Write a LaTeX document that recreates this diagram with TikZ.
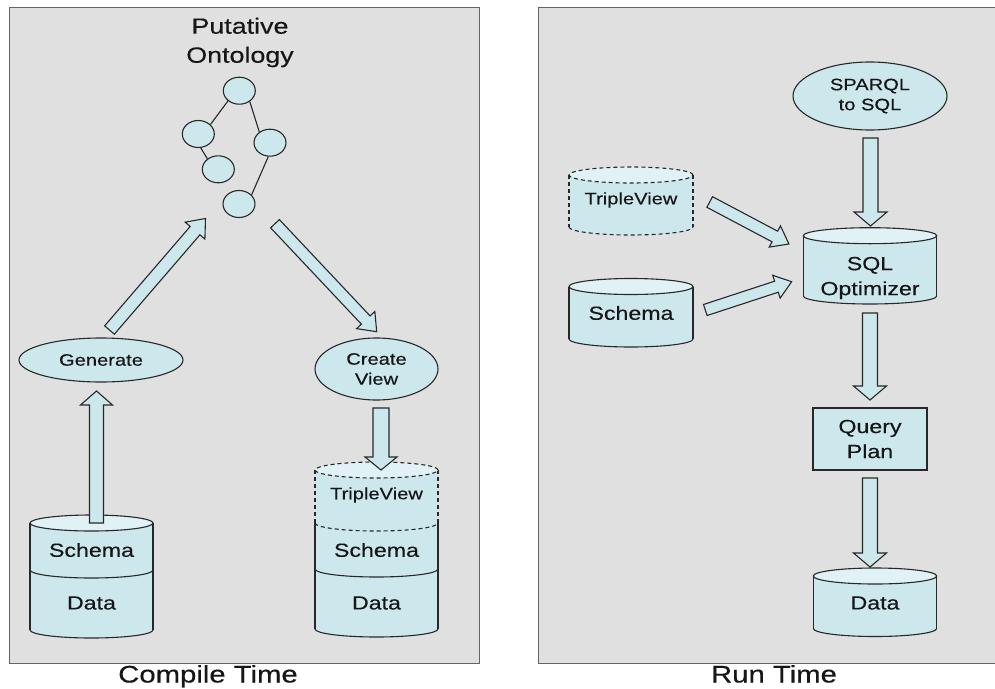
\documentclass[tikz,border=0pt]{standalone}
\usepackage{fontspec}
\setmainfont{Liberation Sans}[FakeStretch=1.22,FakeBold=0.35]
\usetikzlibrary{calc,shapes.geometric}

\definecolor{panelbg}{RGB}{224,224,224}
\definecolor{panelline}{RGB}{100,100,100}
\definecolor{cylfill}{RGB}{204,232,236}
\definecolor{cyltopfill}{RGB}{224,242,245}
\definecolor{inkc}{RGB}{40,40,40}
\definecolor{textc}{RGB}{22,22,22}

% database drawing helpers: centre x, x radius, y values, extra style
\newcommand\cylBody[4]{%
  \fill[cylfill] ({#1-#2},#3) -- ({#1-#2},#4)
    arc[start angle=180,end angle=360,x radius=#2pt,y radius=8pt]
    -- ({#1+#2},#3) -- cycle;}
\newcommand\cylSides[5]{%
  \draw[shapeline,#5] ({#1-#2},#3) -- ({#1-#2},#4) ({#1+#2},#3) -- ({#1+#2},#4);}
\newcommand\cylArc[4]{%
  \draw[shapeline,#4] ({#1-#2},#3)
    arc[start angle=180,end angle=360,x radius=#2pt,y radius=8pt];}
\newcommand\cylTop[4]{%
  \draw[shapeline,fill=cyltopfill,#4] (#1,#3) ellipse[x radius=#2pt,y radius=8pt];}

\begin{document}
\begin{tikzpicture}[x=1pt,y=-1pt,
  panel/.style={fill=panelbg, draw=panelline, line width=1pt},
  txt/.style={text=textc, align=center, inner sep=0pt},
  big/.style={txt, font=\fontsize{24}{29}\selectfont},
  head/.style={txt, font=\fontsize{22}{29}\selectfont},
  mid/.style={txt, font=\fontsize{19}{25}\selectfont},
  small/.style={txt, font=\fontsize{16.5}{20}\selectfont},
  shapeline/.style={draw=inkc, line width=1.1pt},
  dashline/.style={dash pattern=on 4pt off 3pt},
  oval/.style={ellipse, shapeline, fill=cylfill, inner sep=0pt},
  onto/.style={oval, minimum width=32pt, minimum height=27pt},
  boxnode/.style={rectangle, shapeline, fill=cylfill, inner sep=0pt},
  blockarrow/.style n args={3}{shapeline, fill=cylfill, line join=miter,
    to path={let \p1=(\tikztostart), \p2=(\tikztotarget),
      \n1={atan2(\y2-\y1,\x2-\x1)}, \n2={veclen(\x2-\x1,\y2-\y1)} in
      ([shift={(\p1)},rotate=\n1]0pt,-#1pt)
      -- ([shift={(\p1)},rotate=\n1]\n2-#3pt,-#1pt)
      -- ([shift={(\p1)},rotate=\n1]\n2-#3pt,-#2pt)
      -- ([shift={(\p1)},rotate=\n1]\n2,0pt)
      -- ([shift={(\p1)},rotate=\n1]\n2-#3pt,#2pt)
      -- ([shift={(\p1)},rotate=\n1]\n2-#3pt,#1pt)
      -- ([shift={(\p1)},rotate=\n1]0pt,#1pt) -- cycle}},
]
\useasboundingbox (0,0) rectangle (995,688);
\fill[white] (0,0) rectangle (995,688);

% panels
\draw[panel] (9,7) rectangle (479,663);
\begin{scope}
  \clip (0,0) rectangle (995,688);
  \draw[panel] (538,7) rectangle (1002,663);
\end{scope}

\node[big, anchor=base] (ctime) at (208,682.5) {Compile Time};
\node[big, anchor=base] (rtime) at (774,682.5) {Run Time};

% ---------------- compile time ----------------
\node[head] (ptitle) at (240,42.5) {Putative\\Ontology};

\node[onto] (o1) at (239.3,90.7) {};
\node[onto] (o2) at (198.3,134) {};
\node[onto] (o3) at (270,142.7) {};
\node[onto] (o4) at (218.3,169.3) {};
\node[onto] (o5) at (239,204) {};
\draw[shapeline] (o1.-138) -- (o2.38);
\draw[shapeline] (o1.-46) -- (o3.135);
\draw[shapeline] (o2.-80) -- (o4.136);
\draw[shapeline] (o3.-97) -- (o5.36);

\node[oval, small, minimum width=164pt, minimum height=44pt] (gen) at (101,360) {Generate};
\node[oval, small, minimum width=123pt, minimum height=62pt] (cview) at (376.5,369) {Create\\View};

% source database: schema over data
\cylBody{91.5}{61.5}{523}{630}
\cylSides{91.5}{61.5}{523}{630}{}
\cylArc{91.5}{61.5}{630}{}
\cylArc{91.5}{61.5}{570}{}
\cylTop{91.5}{61.5}{523}{}
\node[mid] (lschema) at (91.5,550) {Schema};
\node[mid] (ldata) at (91.5,603) {Data};

% database with the triple view on top
\cylBody{376.5}{61.5}{470}{629}
\cylSides{376.5}{61.5}{470}{523}{dashline}
\cylSides{376.5}{61.5}{523}{629}{}
\cylArc{376.5}{61.5}{629}{}
\cylArc{376.5}{61.5}{569}{}
\cylArc{376.5}{61.5}{523}{dashline}
\cylTop{376.5}{61.5}{470}{dashline}
\node[small] (rtv) at (376.5,495) {TripleView};
\node[mid] (rschema) at (376.5,550) {Schema};
\node[mid] (rdata) at (376.5,603) {Data};

% arrows
\coordinate (a1s) at (109.5,330);   \coordinate (a1e) at (205.5,218.5);
\coordinate (a2s) at (275,223.7);   \coordinate (a2e) at (376.7,331.7);
\coordinate (a3s) at (96.5,523);    \coordinate (a3e) at (96.5,391);
\coordinate (a4s) at (381,408);     \coordinate (a4e) at (381,470);
\path[blockarrow={6.4}{13}{16}] (a1s) to (a1e);
\path[blockarrow={6}{12.5}{16}] (a2s) to (a2e);
\path[blockarrow={7}{16}{14}] (a3s) to (a3e);
\path[blockarrow={8}{16}{13}] (a4s) to (a4e);

% ---------------- run time ----------------
\node[oval, small, minimum width=154pt, minimum height=68pt] (sparql) at (870,96) {SPARQL\\to SQL};

\cylBody{631}{62}{175}{227}
\cylSides{631}{62}{175}{227}{dashline}
\cylArc{631}{62}{227}{dashline}
\cylTop{631}{62}{175}{dashline}
\node[small] (tview) at (631,200) {TripleView};

\cylBody{631}{62}{286.5}{339}
\cylSides{631}{62}{286.5}{339}{}
\cylArc{631}{62}{339}{}
\cylTop{631}{62}{286.5}{}
\node[mid] (schema) at (631,313) {Schema};

\cylBody{870}{66.7}{235.7}{296}
\cylSides{870}{66.7}{235.7}{296}{}
\cylArc{870}{66.7}{296}{}
\cylTop{870}{66.7}{235.7}{}
\node[mid] (sqlopt) at (870,278) {SQL\\Optimizer};

\node[boxnode, mid, minimum width=114pt, minimum height=62pt] (qplan) at (870,439) {Query\\Plan};

\cylBody{875}{61.7}{576}{628.5}
\cylSides{875}{61.7}{576}{628.5}{}
\cylArc{875}{61.7}{628.5}{}
\cylTop{875}{61.7}{576}{}
\node[mid] (data) at (875,603) {Data};

\coordinate (b1s) at (870.5,138);  \coordinate (b1e) at (870.5,226);
\coordinate (b2s) at (870,313);    \coordinate (b2e) at (870,400);
\coordinate (b3s) at (870,478);    \coordinate (b3e) at (870,567);
\coordinate (b4s) at (709.7,202);  \coordinate (b4e) at (789,244);
\coordinate (b5s) at (705.3,310);  \coordinate (b5e) at (791.7,281.7);
\path[blockarrow={7.5}{16.5}{14}] (b1s) to (b1e);
\path[blockarrow={7.5}{16.5}{14}] (b2s) to (b2e);
\path[blockarrow={7.5}{16.5}{14}] (b3s) to (b3e);
\path[blockarrow={6}{12}{16}] (b4s) to (b4e);
\path[blockarrow={5.8}{12}{16}] (b5s) to (b5e);
\end{tikzpicture}
\end{document}
